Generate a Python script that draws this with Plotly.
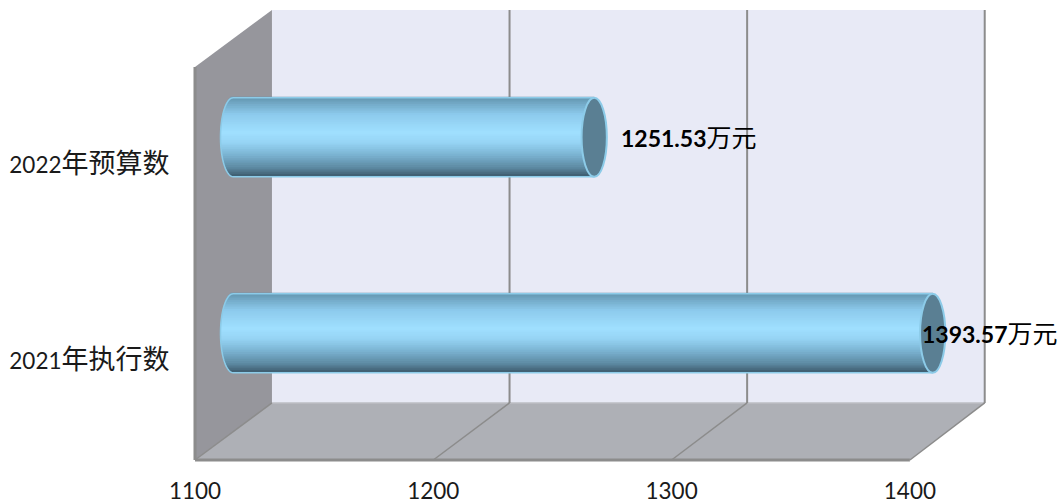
import numpy as np
import plotly.graph_objects as go

# ---- data ----
categories = ["2021年执行数", "2022年预算数"]
values = [1393.57, 1251.53]
unit = "万元"
x_ticks = [1100, 1200, 1300, 1400]

# ---- 3D look (styling only) ----
AXIS_MIN = 1100
DEPTH_X = 32.3      # full depth of the box, in value units
DEPTH_Y = 0.291     # full depth of the box, in category units
BACK_SCALE = 0.997  # slight perspective of the back wall
HALF_X = 16.0       # bars sit half way into the box
HALF_Y = 0.1415
BAR_H = 0.403
CAP_A = 5.3         # cap half width in value units
FLOOR = -0.505
WALL_TOP = 1.5
LABEL_SHIFT = [10.8, 26.4]

STOPS_T = [0.0, 0.05, 0.22, 0.45, 0.58, 0.74, 0.9, 1.0]
STOPS_C = [(96, 146, 172), (108, 160, 188), (140, 202, 236), (160, 224, 255),
           (150, 212, 244), (122, 178, 208), (92, 136, 160), (62, 92, 110)]


def shade(t):
    c = [np.interp(t, STOPS_T, [s[k] for s in STOPS_C]) for k in range(3)]
    return "rgb(%d,%d,%d)" % tuple(int(round(v)) for v in c)


def back_x(v):
    return AXIS_MIN + DEPTH_X + (v - AXIS_MIN) * BACK_SCALE


fig = go.Figure()

# Cylinder body: stacked strips of one bar each, rounded at the left end
N = 44
for s in range(N):
    t0, t1 = s / N, (s + 1) / N
    tm = (t0 + t1) / 2
    u = 2 * tm - 1
    left = AXIS_MIN + HALF_X - CAP_A * np.sqrt(1 - u * u)
    right = np.array(values) + HALF_X
    fig.add_trace(go.Bar(
        y=categories, x=right - left, base=[left] * len(values), orientation="h",
        width=BAR_H / N * 1.5,
        offset=HALF_Y + BAR_H / 2 - t1 * BAR_H,
        marker=dict(color=shade(tm), line=dict(width=0)),
        showlegend=False, hoverinfo="skip"))

GRID = "#8c8c8c"
shapes = []


def poly(pts, fill, line=None, w=0, layer="below"):
    d = "M" + " L".join(f"{x:.3f},{y:.4f}" for x, y in pts) + " Z"
    shapes.append(dict(type="path", path=d, xref="x", yref="y", fillcolor=fill, layer=layer,
                       line=dict(color=line or fill, width=w)))


def seg(x0, y0, x1, y1, w=2, c=GRID):
    shapes.append(dict(type="line", x0=x0, x1=x1, y0=y0, y1=y1, xref="x", yref="y",
                       layer="below", line=dict(color=c, width=w)))


xb0, xb1 = back_x(AXIS_MIN), back_x(x_ticks[-1])
yb = FLOOR + DEPTH_Y
ytop = WALL_TOP + DEPTH_Y
poly([(xb0, yb), (xb1, yb), (xb1, ytop), (xb0, ytop)], "#e8eaf6")
poly([(AXIS_MIN, FLOOR), (AXIS_MIN, WALL_TOP), (xb0, ytop), (xb0, yb)], "#96969c")
poly([(AXIS_MIN, FLOOR), (x_ticks[-1], FLOOR), (xb1, yb), (xb0, yb)], "#aeb0b6")
seg(xb0, yb, xb1, yb, 1.5, "#bdbec3")
for tv in x_ticks:
    seg(tv, FLOOR, back_x(tv), yb, 1.5)
    if tv > x_ticks[0]:
        seg(back_x(tv), yb, back_x(tv), ytop, 2)
seg(AXIS_MIN, FLOOR, x_ticks[-1], FLOOR, 3)
seg(AXIS_MIN, FLOOR, AXIS_MIN, WALL_TOP, 3)

# Cap + outline of every cylinder, all derived from the values
EDGE = "#8ccbe8"
th = np.linspace(0, np.pi, 40)
for i, v in enumerate(values):
    yc = i + HALF_Y
    xr = v + HALF_X
    xl = AXIS_MIN + HALF_X
    shapes.append(dict(type="circle", xref="x", yref="y", layer="above",
                       x0=xr - CAP_A, x1=xr + CAP_A,
                       y0=yc - BAR_H / 2, y1=yc + BAR_H / 2,
                       fillcolor="#5a7f93", line=dict(color=EDGE, width=2)))
    pts = [(xr, yc + BAR_H / 2)]
    pts += [(xl - CAP_A * np.sin(a), yc + BAR_H / 2 * np.cos(a)) for a in th]
    pts += [(xr, yc - BAR_H / 2)]
    d = "M" + " L".join(f"{x:.3f},{y:.4f}" for x, y in pts)
    shapes.append(dict(type="path", path=d, xref="x", yref="y", layer="above",
                       line=dict(color=EDGE, width=1.5)))

LATIN = "Lato, 'Noto Sans CJK SC', sans-serif"
annotations = [
    dict(x=v + s, y=i + HALF_Y, xref="x", yref="y", xanchor="left", yanchor="middle",
         showarrow=False, xshift=0,
         text=f"<b>{v:.2f}</b><span style='font-size:25px'>{unit}</span>",
         font=dict(family=LATIN, size=23, color="#000000"))
    for i, (v, s) in enumerate(zip(values, LABEL_SHIFT))
]


def cat_label(c):
    return c[:4] + "<span style='font-size:27px'>" + c[4:] + "</span>"


fig.update_layout(
    width=1064, height=504, barmode="overlay",
    margin=dict(l=180, r=0, t=4, b=31, pad=0),
    paper_bgcolor="white", plot_bgcolor="white",
    shapes=shapes, annotations=annotations, showlegend=False,
    font=dict(family=LATIN, color="#1a1a1a"),
    xaxis=dict(range=[1093.71, 1464.67], tickvals=x_ticks, showgrid=False, zeroline=False,
               showline=False, ticks="outside", ticklen=7, tickcolor="rgba(0,0,0,0)",
               tickfont=dict(size=22.5)),
    yaxis=dict(type="category", categoryorder="array", categoryarray=categories,
               range=[-0.5255, 1.8214], tickvals=categories,
               ticktext=[cat_label(c) for c in categories],
               showgrid=False, zeroline=False, showline=False,
               ticks="outside", ticklen=5, tickcolor="rgba(0,0,0,0)",
               tickfont=dict(size=22.5)),
)

fig.write_html("out.html", post_script="document.body.style.margin='0';",
               config={"displayModeBar": False})
